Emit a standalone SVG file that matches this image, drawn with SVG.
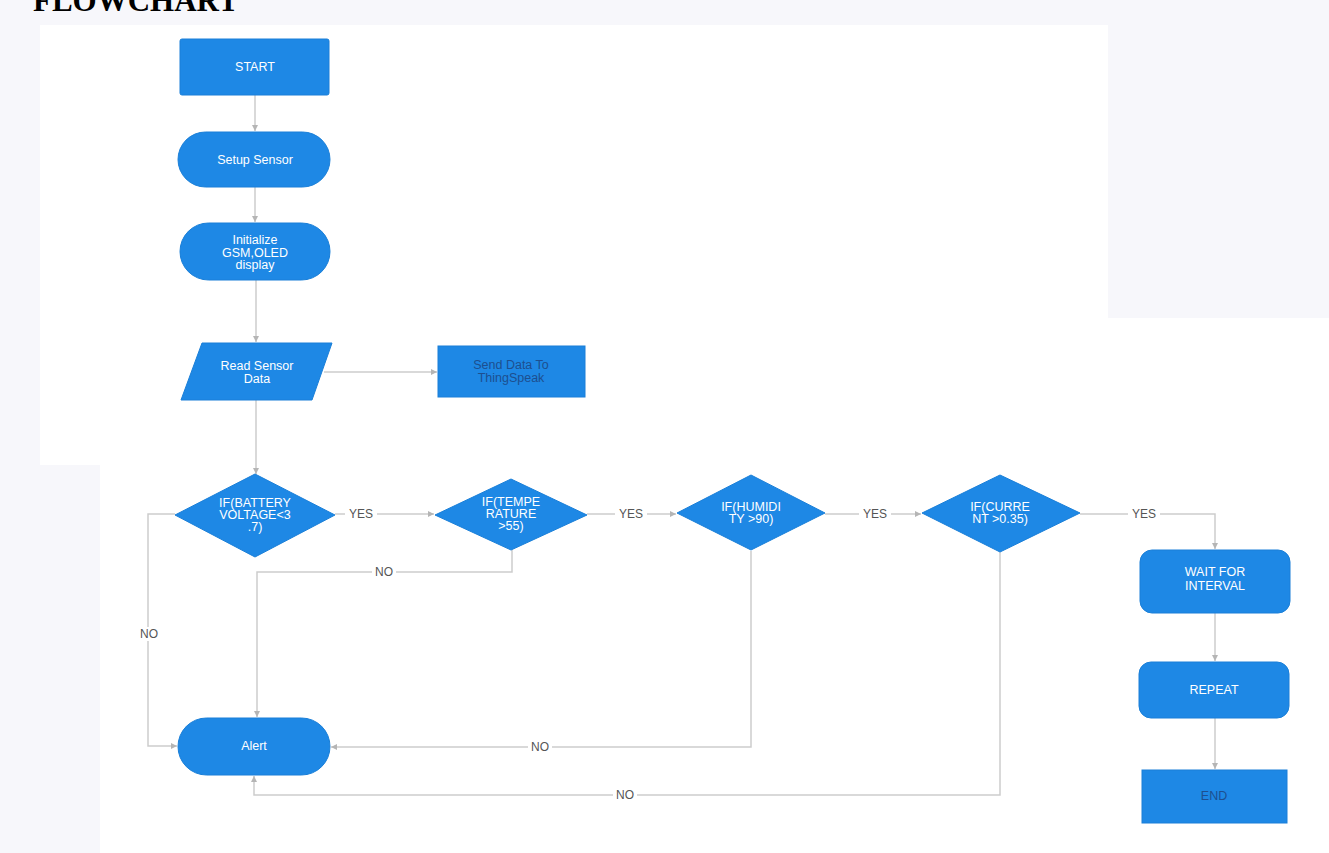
<svg xmlns="http://www.w3.org/2000/svg" width="1329" height="853" viewBox="0 0 1329 853">
<defs>
<style>
.bg{fill:#f7f7fb}
.pg{fill:#ffffff}
.n{fill:#1e88e5;stroke:#1a7fd8;stroke-width:1}
.t{font-family:"Liberation Sans",Arial,sans-serif;font-size:12.5px;fill:#ffffff;text-anchor:middle;dominant-baseline:central}
.td{fill:#1d4f8f}
.c{fill:none;stroke:#cdcdcd;stroke-width:1.5}
.lb{font-family:"Liberation Sans",Arial,sans-serif;font-size:12px;fill:#555555;text-anchor:middle;dominant-baseline:central}
.lbg{fill:#ffffff}
</style>
<marker id="ah" markerWidth="8" markerHeight="8" refX="7" refY="4" orient="auto" markerUnits="userSpaceOnUse">
<path d="M1,1 L7,4 L1,7 Z" fill="#b5b5b5"/>
</marker>
</defs>
<rect class="bg" x="0" y="0" width="1329" height="853"/>
<rect class="pg" x="40" y="25" width="1068" height="440"/>
<rect class="pg" x="100" y="465" width="1229" height="388"/>
<rect class="pg" x="1108" y="318" width="221" height="150"/>
<text x="33" y="11" font-family="Liberation Serif,'Times New Roman',serif" font-weight="bold" font-size="31" fill="#000000">FLOWCHART</text>

<g id="connectors">
<path class="c" d="M255,95 V131" marker-end="url(#ah)"/>
<path class="c" d="M255,187 V222" marker-end="url(#ah)"/>
<path class="c" d="M256,280 V342" marker-end="url(#ah)"/>
<path class="c" d="M324,372 H437" marker-end="url(#ah)"/>
<path class="c" d="M256,400 V474" marker-end="url(#ah)"/>
<path class="c" d="M335,514 H434" marker-end="url(#ah)"/>
<path class="c" d="M587,514 H676" marker-end="url(#ah)"/>
<path class="c" d="M825,514 H921" marker-end="url(#ah)"/>
<path class="c" d="M1080,514 H1215 V549" marker-end="url(#ah)"/>
<path class="c" d="M1215,613 V661" marker-end="url(#ah)"/>
<path class="c" d="M1215,718 V769" marker-end="url(#ah)"/>
<path class="c" d="M175,514 H148 V746 H177" marker-end="url(#ah)"/>
<path class="c" d="M512,550 V572 H257 V717" marker-end="url(#ah)"/>
<path class="c" d="M751,551 V747 H331" marker-end="url(#ah)"/>
<path class="c" d="M1000,552 V795 H254 V776" marker-end="url(#ah)"/>
<rect class="lbg" x="345" y="507" width="32" height="14"/>
<text class="lb" x="361" y="514">YES</text>
<rect class="lbg" x="615" y="507" width="32" height="14"/>
<text class="lb" x="631" y="514">YES</text>
<rect class="lbg" x="859" y="507" width="32" height="14"/>
<text class="lb" x="875" y="514">YES</text>
<rect class="lbg" x="1128" y="507" width="32" height="14"/>
<text class="lb" x="1144" y="514">YES</text>
<rect class="lbg" x="372" y="565" width="24" height="14"/>
<text class="lb" x="384" y="572">NO</text>
<rect class="lbg" x="137" y="627" width="24" height="14"/>
<text class="lb" x="149" y="634">NO</text>
<rect class="lbg" x="528" y="740" width="24" height="14"/>
<text class="lb" x="540" y="747">NO</text>
<rect class="lbg" x="613" y="788" width="24" height="14"/>
<text class="lb" x="625" y="795">NO</text>
</g>

<g id="start">
<rect class="n" x="180" y="39" width="149" height="56" rx="2"/>
<text class="t" x="255" y="67">START</text>
</g>
<g id="setup">
<rect class="n" x="178" y="132" width="152" height="55" rx="27.5"/>
<text class="t" x="255" y="160">Setup Sensor</text>
</g>
<g id="init">
<rect class="n" x="180" y="223" width="150" height="57" rx="28.5"/>
<text class="t" x="255" y="240">Initialize</text>
<text class="t" x="255" y="253">GSM,OLED</text>
<text class="t" x="255" y="265">display</text>
</g>
<g id="read">
<polygon class="n" points="202,343 332,343 312,400 181,400"/>
<text class="t" x="257" y="366">Read Sensor</text>
<text class="t" x="257" y="379">Data</text>
</g>
<g id="send">
<rect class="n" x="438" y="346" width="147" height="51"/>
<text class="t td" x="511" y="365">Send Data To</text>
<text class="t td" x="511" y="378">ThingSpeak</text>
</g>
<g id="d1">
<polygon class="n" points="255,474 335,515 255,557 175,515"/>
<text class="t" x="255" y="503">IF(BATTERY</text>
<text class="t" x="255" y="515">VOLTAGE&lt;3</text>
<text class="t" x="255" y="527">.7)</text>
</g>
<g id="d2">
<polygon class="n" points="511,479 587,515 511,550 435,515"/>
<text class="t" x="511" y="502">IF(TEMPE</text>
<text class="t" x="511" y="514">RATURE</text>
<text class="t" x="511" y="526">&gt;55)</text>
</g>
<g id="d3">
<polygon class="n" points="751,475 825,513 751,550 677,513"/>
<text class="t" x="751" y="507">IF(HUMIDI</text>
<text class="t" x="751" y="519">TY &gt;90)</text>
</g>
<g id="d4">
<polygon class="n" points="1000,475 1080,513 1000,552 922,513"/>
<text class="t" x="1000" y="507">IF(CURRE</text>
<text class="t" x="1000" y="519">NT &gt;0.35)</text>
</g>
<g id="wait">
<rect class="n" x="1140" y="550" width="150" height="63" rx="12"/>
<text class="t" x="1215" y="572">WAIT FOR</text>
<text class="t" x="1215" y="586">INTERVAL</text>
</g>
<g id="repeat">
<rect class="n" x="1139" y="662" width="150" height="56" rx="12"/>
<text class="t" x="1214" y="690">REPEAT</text>
</g>
<g id="end">
<rect class="n" x="1142" y="770" width="145" height="53"/>
<text class="t td" x="1214" y="796">END</text>
</g>
<g id="alert">
<rect class="n" x="178" y="718" width="152" height="57" rx="28.5"/>
<text class="t" x="254" y="746">Alert</text>
</g>
</svg>
